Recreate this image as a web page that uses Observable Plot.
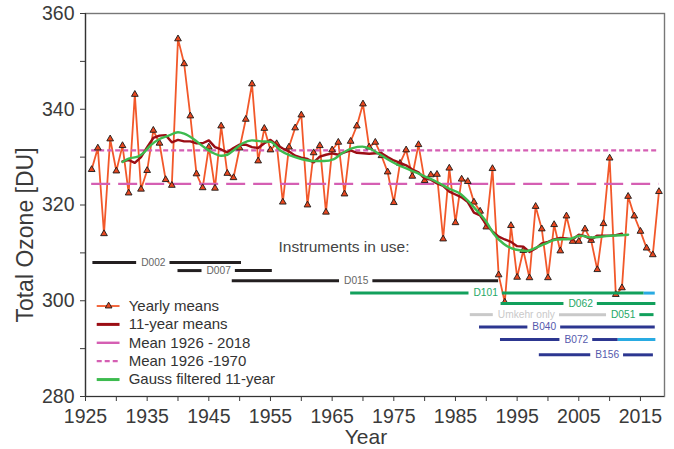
<!DOCTYPE html>
<html>
<head>
<meta charset="utf-8">
<script src="https://cdn.jsdelivr.net/npm/d3@7"></script>
<script src="https://cdn.jsdelivr.net/npm/@observablehq/plot@0.6"></script>
<style>
  html, body { margin: 0; padding: 0; background: #fff; }
  #chart svg { display: block; }
</style>
</head>
<body>
<div id="chart"></div>
<script>
// Yearly mean total ozone (DU), 1926-2018
const years = [
  1926, 1927, 1928, 1929, 1930, 1931, 1932, 1933, 1934, 1935,
  1936, 1937, 1938, 1939, 1940, 1941, 1942, 1943, 1944, 1945,
  1946, 1947, 1948, 1949, 1950, 1951, 1952, 1953, 1954, 1955,
  1956, 1957, 1958, 1959, 1960, 1961, 1962, 1963, 1964, 1965,
  1966, 1967, 1968, 1969, 1970, 1971, 1972, 1973, 1974, 1975,
  1976, 1977, 1978, 1979, 1980, 1981, 1982, 1983, 1984, 1985,
  1986, 1987, 1988, 1989, 1990, 1991, 1992, 1993, 1994, 1995,
  1996, 1997, 1998, 1999, 2000, 2001, 2002, 2003, 2004, 2005,
  2006, 2007, 2008, 2009, 2010, 2011, 2012, 2013, 2014, 2015,
  2016, 2017, 2018
];
const yearlyMeans = [
  327.4, 331.9, 314.0, 333.8, 327.1, 332.4, 322.5, 343.1, 323.3, 327.2,
  335.6, 332.9, 325.3, 324.1, 354.7, 349.5, 338.6, 326.5, 323.6, 332.1,
  323.5, 336.5, 326.6, 325.7, 331.9, 337.9, 345.3, 329.2, 336.0, 331.5,
  332.8, 320.6, 332.1, 336.1, 338.8, 320.0, 330.9, 332.4, 318.5, 331.5,
  333.1, 322.3, 333.3, 336.5, 341.1, 332.1, 333.1, 330.3, 326.9, 320.5,
  328.7, 331.5, 326.0, 332.6, 325.1, 326.3, 326.4, 312.9, 327.7, 316.3,
  325.4, 324.9, 320.6, 318.7, 315.4, 327.6, 305.4, 299.7, 315.7, 304.9,
  310.5, 304.8, 319.7, 315.0, 304.8, 315.9, 310.4, 317.7, 312.4, 312.4,
  315.0, 312.6, 306.5, 316.1, 329.8, 301.3, 302.7, 321.8, 317.7, 314.5,
  311.0, 309.6, 322.8
];

// 11-year running means
const runYears = [
  1931, 1932, 1933, 1934, 1935, 1936, 1937, 1938, 1939, 1940,
  1941, 1942, 1943, 1944, 1945, 1946, 1947, 1948, 1949, 1950,
  1951, 1952, 1953, 1954, 1955, 1956, 1957, 1958, 1959, 1960,
  1961, 1962, 1963, 1964, 1965, 1966, 1967, 1968, 1969, 1970,
  1971, 1972, 1973, 1974, 1975, 1976, 1977, 1978, 1979, 1980,
  1981, 1982, 1983, 1984, 1985, 1986, 1987, 1988, 1989, 1990,
  1991, 1992, 1993, 1994, 1995, 1996, 1997, 1998, 1999, 2000,
  2001, 2002, 2003, 2004, 2005, 2006, 2007, 2008, 2009, 2010,
  2011, 2012
];
const runMeans = [
  329.1, 329.4, 328.8, 330.0, 332.1, 334.0, 334.5, 334.6, 333.1, 333.6,
  333.3, 333.3, 332.9, 332.9, 333.5, 332.1, 331.6, 331.0, 331.9, 332.6,
  332.6, 332.1, 331.9, 332.9, 333.6, 332.6, 331.8, 331.2, 330.3, 329.9,
  329.6, 328.9, 330.1, 330.5, 330.8, 330.5, 331.0, 331.4, 330.9, 330.8,
  330.7, 330.8, 330.8, 330.0, 329.3, 328.8, 328.3, 327.4, 326.8, 325.5,
  325.3, 324.5, 324.0, 322.8, 322.2, 321.6, 320.6, 318.4, 317.8, 315.9,
  314.5, 313.4, 312.8, 312.3, 311.4, 311.3, 310.2, 310.9, 312.0, 312.3,
  312.8, 313.1, 313.0, 312.8, 313.8, 313.5, 312.8, 313.6, 313.6, 313.6,
  313.7, 314.0
];

// Gaussian-filtered 11-year curve
const gaussYears = [
  1931, 1932, 1933.5, 1934.5, 1935.5, 1937, 1938.5, 1940, 1941, 1942.5,
  1944, 1945.5, 1947, 1948, 1949, 1950.5, 1952, 1953.5, 1955, 1956.6,
  1958.3, 1960, 1961.8, 1963.7, 1965.3, 1966.6, 1968.3, 1969.9, 1971.2, 1972.6,
  1974.2, 1975.8, 1977.5, 1979.1, 1980.7, 1982.3, 1984, 1985.6, 1987, 1988,
  1990, 1991.2, 1992.8, 1994.7, 1996.6, 1997.9, 1999.5, 2001.4, 2003.5, 2005.2,
  2007.1, 2009.5, 2013
];
const gaussValues = [
  329.0, 329.7, 330.1, 331.0, 332.4, 333.8, 334.5, 335.2, 334.9, 333.8,
  332.3, 331.0, 330.3, 330.5, 331.4, 332.9, 333.5, 333.3, 333.2, 331.4,
  330.3, 329.6, 329.2, 329.2, 329.6, 330.8, 331.9, 332.2, 331.7, 330.7,
  329.4, 328.3, 327.4, 326.5, 325.6, 324.6, 323.4, 322.5, 320.9, 319.5,
  316.5, 314.0, 311.9, 310.7, 310.4, 311.0, 311.9, 312.8, 312.9, 313.6,
  313.2, 313.5, 313.8
];

// Long-term means
const meanLabels = ["Mean 1926 - 2018", "Mean 1926 -1970"];
const meanValues = [324.4, 331.4];
const meanFrom = 1926;
const meanTo = 2018;

// Instruments in use (years in service)
const instNames  = ["D002", "D007", "D015", "D101", "D062", "Umkehr only", "D051", "B040", "B072", "B156"];
const instStart  = [1926.2, 1940.0, 1948.8, 1968.0, 1992.4, 1987.4, 2009.6, 1988.9, 1992.3, 1998.6];
const instEnd    = [1950.3, 1955.3, 1992.0, 2017.4, 2017.5, 2009.5, 2017.2, 2017.4, 2017.5, 2017.1];
const instLateFrom = {D101: 2015.6, B072: 2011.4};

// Axis ticks
const yTicks = [280, 290, 300, 310, 320, 330, 340, 350, 360];
const yTickLabels = [280, 300, 320, 340, 360];
const xTicks = [1925, 1930, 1935, 1940, 1945, 1950, 1955, 1960, 1965, 1970, 1975, 1980, 1985, 1990, 1995, 2000, 2005, 2010, 2015];
const xTickLabels = [1925, 1935, 1945, 1955, 1965, 1975, 1985, 1995, 2005, 2015];

const legendLabels = ["Yearly means", "11-year means", "Mean 1926 - 2018", "Mean 1926 -1970", "Gauss filtered 11-year"];

// ---- styling and layout ----
const FONT = '"Liberation Sans", Helvetica, Arial, sans-serif';
const W = 674, H = 449, M = {top: 13, right: 10, bottom: 53, left: 85};
const X_DOMAIN = [1925, 2018.9];
const C = {
  yearly: "#f2582a", tri: "#e8471f", run: "#9b0d14", gauss: "#3dbb4f", mean: "#d55fb3",
  ink: "#3a3a3a", barBlack: "#231f20", barGreen: "#12a05c", barNavy: "#2c3690", sky: "#29abe2",
  umkehr: "#c9c9c9", lblBlack: "#666", lblGreen: "#25a866", lblNavy: "#5559ad"
};
const instStyle = {
  D002: ["barBlack", "lblBlack"], D007: ["barBlack", "lblBlack"], D015: ["barBlack", "lblBlack"],
  D101: ["barGreen", "lblGreen"], D062: ["barGreen", "lblGreen"], D051: ["barGreen", "lblGreen"],
  "Umkehr only": ["umkehr", "umkehr"],
  B040: ["barNavy", "lblNavy"], B072: ["barNavy", "lblNavy"], B156: ["barNavy", "lblNavy"]
};
// lane heights (DU units) and label anchors (years)
const laneY = {D002: 308.0, D007: 306.3, D015: 304.2, D101: 301.6, D062: 299.4, "Umkehr only": 297.1, D051: 297.1, B040: 294.5, B072: 291.9, B156: 288.7};
const labelAt = {D002: 1936.0, D007: 1946.6, D015: 1968.9, D101: 1989.9, D062: 2005.3, "Umkehr only": 1996.5, D051: 2012.2, B040: 1999.4, B072: 2004.6, B156: 2009.6};
const LABEL_SIZE = 10.2, LABEL_PAD = 4.5;
const LEG = {top: 298.9, step: 3.84, x1: 1926.9, x2: 1930.6, tx: 1932.0};

const yearly = years.map((year, i) => ({year, value: yearlyMeans[i]}));
const running = runYears.map((year, i) => ({year, value: runMeans[i]}));
const gauss = gaussYears.map((year, i) => ({year, value: gaussValues[i]}));

// measure a label so its bar can leave a gap around it
const ctx = document.createElement("canvas").getContext("2d");
ctx.font = `${LABEL_SIZE}px ${FONT}`;
const yearsPerPx = (X_DOMAIN[1] - X_DOMAIN[0]) / (W - M.left - M.right);

// instrument segments: bar split around its label, late light-blue period split off
const segments = [];
instNames.forEach((name, i) => {
  const color = C[instStyle[name][0]];
  const half = (ctx.measureText(name).width / 2 + LABEL_PAD) * yearsPerPx;
  const gapA = labelAt[name] - half, gapB = labelAt[name] + half;
  const late = instLateFrom[name];
  const pieces = [[instStart[i], gapA], [gapB, instEnd[i]]];
  pieces.forEach(([a, b]) => {
    if (b <= a) return;
    if (late != null && late < b) {
      if (late > a) segments.push({lane: laneY[name], from: a, to: late, color});
      segments.push({lane: laneY[name], from: Math.max(a, late), to: b, color: C.sky});
    } else {
      segments.push({lane: laneY[name], from: a, to: b, color});
    }
  });
});
const instLabels = instNames.map(name => ({name, lane: laneY[name], at: labelAt[name], color: C[instStyle[name][1]]}));

const legendRows = legendLabels.map((label, i) => ({label, y: LEG.top - LEG.step * i}));
const legendLine = [
  {stroke: C.yearly, strokeWidth: 1.8},
  {stroke: C.run, strokeWidth: 3},
  {stroke: C.mean, strokeWidth: 2.4},
  {stroke: C.mean, strokeWidth: 2.4, strokeDasharray: "5,3"},
  {stroke: C.gauss, strokeWidth: 3}
];

const chart = Plot.plot({
  width: W,
  height: H,
  marginTop: M.top,
  marginRight: M.right,
  marginBottom: M.bottom,
  marginLeft: M.left,
  x: {domain: X_DOMAIN},
  y: {domain: [280, 360]},
  color: {type: "identity"},
  style: {fontFamily: FONT, color: C.ink, background: "#fff", overflow: "visible"},
  marks: [
    Plot.frame({stroke: "#777", strokeWidth: 1.4}),

    // yearly means
    Plot.line(yearly, {x: "year", y: "value", stroke: C.yearly, strokeWidth: 1.8}),

    // long-term means
    Plot.ruleY([meanValues[0]], {x1: meanFrom, x2: meanTo, stroke: C.mean, strokeWidth: 2.2, strokeDasharray: "19,8"}),
    Plot.ruleY([meanValues[1]], {x1: meanFrom, x2: meanTo, stroke: C.mean, strokeWidth: 2.2, strokeDasharray: "5,3"}),

    Plot.dot(yearly, {x: "year", y: "value", symbol: "triangle", r: 2.5, fill: C.tri, stroke: "#1a1a1a", strokeWidth: 0.9}),

    // smoothed curves
    Plot.line(running, {x: "year", y: "value", stroke: C.run, strokeWidth: 2.4}),
    Plot.line(gauss, {x: "year", y: "value", stroke: C.gauss, strokeWidth: 2.4, curve: "monotone-x"}),

    // instruments in use
    Plot.text(["Instruments in use:"], {x: 1956.3, y: 311.2, textAnchor: "start", fontSize: 15.5, fill: "#444"}),
    Plot.ruleY(segments, {y: "lane", x1: "from", x2: "to", stroke: "color", strokeWidth: 3}),
    Plot.text(instLabels, {x: "at", y: "lane", text: "name", fill: "color", fontSize: LABEL_SIZE}),

    // legend
    ...legendRows.map((r, i) => Plot.ruleY([r], {y: "y", x1: LEG.x1, x2: LEG.x2, ...legendLine[i]})),
    Plot.dot([legendRows[0]], {x: (LEG.x1 + LEG.x2) / 2, y: "y", symbol: "triangle", r: 2.5, fill: C.tri, stroke: "#1a1a1a", strokeWidth: 0.9}),
    Plot.text(legendRows, {x: LEG.tx, y: "y", text: "label", textAnchor: "start", fontSize: 15, fill: "#333"}),

    // axes
    Plot.ruleX([1925], {stroke: "#333", strokeWidth: 1.2}),
    Plot.ruleY([280], {stroke: "#333", strokeWidth: 1.2}),
    Plot.axisY({ticks: yTicks, tickFormat: d => yTickLabels.includes(d) ? String(d) : "", tickSize: 5, tickPadding: 6, fontSize: 19.5, label: null}),
    Plot.axisX({ticks: xTicks, tickFormat: d => xTickLabels.includes(d) ? String(d) : "", tickSize: 5, tickPadding: 8, fontSize: 19.5, label: null}),
    Plot.text(["Total Ozone [DU]"], {frameAnchor: "left", dx: -60, dy: 30, rotate: -90, textAnchor: "middle", lineAnchor: "middle", fontSize: 23, fill: C.ink}),
    Plot.text(["Year"], {frameAnchor: "bottom", dx: -9, dy: 41, textAnchor: "middle", lineAnchor: "middle", fontSize: 21, fill: C.ink})
  ]
});

document.getElementById("chart").appendChild(chart);
</script>
</body>
</html>
